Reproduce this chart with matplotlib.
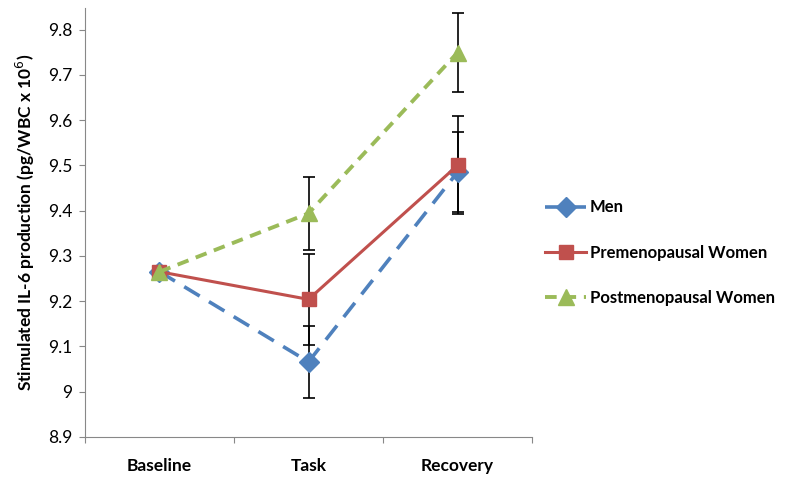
import matplotlib
matplotlib.use('Agg')
import matplotlib.pyplot as plt

plt.rcParams['font.family'] = ['Lato', 'DejaVu Sans']

phases = ['Baseline', 'Task', 'Recovery']
men = [9.265, 9.066, 9.485]
men_err = [0, 0.08, 0.088]
pre = [9.265, 9.204, 9.50]
pre_err = [0, 0.1, 0.108]
post = [9.265, 9.394, 9.749]
post_err = [0, 0.08, 0.087]
yticks = [8.9, 9.0, 9.1, 9.2, 9.3, 9.4, 9.5, 9.6, 9.7, 9.8]
ytick_labels = ['8.9', '9', '9.1', '9.2', '9.3', '9.4', '9.5', '9.6', '9.7', '9.8']

fs = 12.5

fig = plt.figure(figsize=(7.87, 4.79), dpi=100)
ax = fig.add_axes([0.108, 0.0877, 0.568, 0.895])

x = list(range(len(phases)))

for vals, errs in [(men, men_err), (pre, pre_err), (post, post_err)]:
    ax.errorbar(x, vals, yerr=errs, fmt='none', ecolor='black', elinewidth=1.2,
                capsize=4, capthick=1.2, zorder=2)

ax.plot(x, men, color='#4F81BD', lw=2.6, dashes=(5, 3), marker='D', ms=10, label='Men', zorder=3)
ax.plot(x, pre, color='#C0504D', lw=2.2, marker='s', ms=10, label='Premenopausal Women', zorder=4)
ax.plot(x, post, color='#9BBB59', lw=2.8, dashes=(3, 2), marker='^', ms=12, label='Postmenopausal Women', zorder=5)

ax.set_xlim(-0.5, 2.5)
ax.set_ylim(8.9, 9.847)
ax.set_yticks(yticks)
ax.set_yticklabels(ytick_labels, fontsize=fs)
ax.set_xticks([-0.5, 0.5, 1.5, 2.5])
ax.set_xticklabels([])
ax.set_xticks(x, minor=True)
ax.set_xticklabels(phases, minor=True, fontsize=fs, fontweight='bold')
ax.tick_params(axis='x', which='minor', length=0, pad=15)
ax.tick_params(axis='x', which='major', length=4, color='#888888')
ax.tick_params(axis='y', length=4, color='#888888', pad=5)

for s in ['top', 'right']:
    ax.spines[s].set_visible(False)
for s in ['left', 'bottom']:
    ax.spines[s].set_color('#888888')

ax.set_ylabel('Stimulated IL-6 production (pg/WBC x 10$^{6}$)', fontsize=fs, fontweight='bold', labelpad=8)

ax.legend(loc='center left', bbox_to_anchor=(0.995, 0.43), frameon=False,
          prop={'weight': 'bold', 'size': 12}, handlelength=2.5, labelspacing=1.75, handletextpad=0.2)

fig.savefig('out.png', dpi=100)
